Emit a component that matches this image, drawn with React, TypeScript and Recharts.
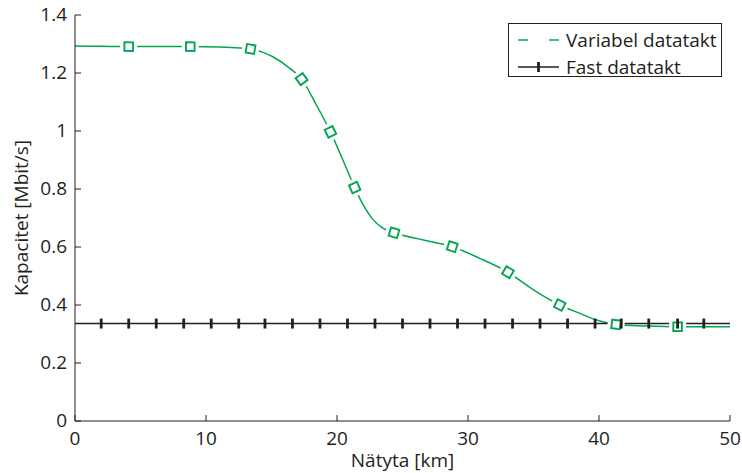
import React from 'react';
import { ComposedChart, Line, XAxis, YAxis, Legend } from 'recharts';

// Variabel datatakt: dense curve, markers are a subset of the x values
const variabelX = [0, 2, 4.1, 6.4, 8.8, 11, 12.3, 13.4, 14.3, 15.1, 16.4, 17.3, 18.4, 19.5, 20.45, 21.35, 22.0, 22.7, 23.5, 24.35, 26.6, 28.8, 30.9, 33.05, 35.0, 37.0, 38.55, 39.8, 41.3, 43.5, 46.0, 48, 50];
const variabelY = [1.293, 1.292, 1.291, 1.291, 1.291, 1.29, 1.287, 1.283, 1.272, 1.256, 1.216, 1.179, 1.092, 0.997, 0.9, 0.805, 0.745, 0.697, 0.665, 0.649, 0.624, 0.601, 0.561, 0.513, 0.452, 0.4, 0.371, 0.348, 0.333, 0.328, 0.325, 0.325, 0.325];
const variabelMarkers = [4.1, 8.8, 13.4, 17.3, 19.5, 21.35, 24.35, 28.8, 33.05, 37.0, 41.3, 46.0];

// Fast datatakt: constant level, tick marks along it
const fastX = [0, 2.0, 4.1, 6.2, 8.3, 10.4, 12.5, 14.5, 16.6, 18.7, 20.8, 22.9, 25.0, 27.1, 29.2, 31.3, 33.4, 35.5, 37.6, 39.7, 41.7, 43.8, 46.0, 48.0, 50];
const fastLevel = 0.336;

const xTicks = [0, 10, 20, 30, 40, 50];
const yTicks = [0, 0.2, 0.4, 0.6, 0.8, 1, 1.2, 1.4];

const GREEN = '#00a651';
const BLACK = '#231f20';
const FONT = '"Open Sans", sans-serif';
const FS = 19;

const variabelData = variabelX.map((x, i) => ({ x, y: variabelY[i] }));
const fastData = fastX.map((x) => ({ x, y: fastLevel }));

const BottomTick = (p: any) => (
  <g>
    <line x1={p.x} y1={p.y} x2={p.x} y2={p.y - 6} stroke={BLACK} strokeWidth={1} />
    <text x={p.x} y={p.y + 24} textAnchor="middle" fill={BLACK} fontFamily={FONT} fontSize={FS}>
      {p.payload.value}
    </text>
  </g>
);

const LeftTick = (p: any) => (
  <g>
    <line x1={p.x} y1={p.y} x2={p.x + 6} y2={p.y} stroke={BLACK} strokeWidth={1} />
    <text x={p.x - 8} y={p.y + 6} textAnchor="end" fill={BLACK} fontFamily={FONT} fontSize={FS}>
      {p.payload.value}
    </text>
  </g>
);

const TopTick = (p: any) => (
  <line x1={p.x} y1={p.y} x2={p.x} y2={p.y + 6} stroke={BLACK} strokeWidth={1} />
);

const RightTick = (p: any) => (
  <line x1={p.x} y1={p.y} x2={p.x - 6} y2={p.y} stroke={BLACK} strokeWidth={1} />
);

const VariabelDot = (p: any) => {
  const key = `v-${p.index}`;
  if (!variabelMarkers.includes(p.payload?.x)) return <g key={key} />;
  let ang = 0;
  const pts = p.points;
  if (pts && pts[p.index - 1] && pts[p.index + 1]) {
    const a = pts[p.index - 1];
    const b = pts[p.index + 1];
    ang = (Math.atan2(b.y - a.y, b.x - a.x) * 180) / Math.PI;
  }
  return (
    <g key={key} transform={`translate(${p.cx},${p.cy}) rotate(${ang})`}>
      <rect x={-8.5} y={-8.5} width={17} height={17} fill="#fff" />
      <rect x={-4.3} y={-4.3} width={8.6} height={8.6} fill="#fff" stroke={GREEN} strokeWidth={1.9} />
    </g>
  );
};

const FastDot = (p: any) => {
  const key = `f-${p.index}`;
  if (p.index === 0 || p.index === fastX.length - 1) return <g key={key} />;
  return <line key={key} x1={p.cx} y1={p.cy - 5} x2={p.cx} y2={p.cy + 5} stroke={BLACK} strokeWidth={2.8} />;
};

const LegendBox = () => (
  <div
    style={{
      width: 214,
      height: 54,
      boxSizing: 'border-box',
      border: `1px solid ${BLACK}`,
      background: '#fff',
      position: 'relative',
      fontFamily: FONT,
      fontSize: FS,
      color: BLACK,
    }}
  >
    <svg width={60} height={54} style={{ position: 'absolute', left: 0, top: 0 }}>
      <line x1={9} y1={16} x2={19} y2={16} stroke={GREEN} strokeWidth={1.5} />
      <line x1={40} y1={16} x2={50} y2={16} stroke={GREEN} strokeWidth={1.5} />
      <line x1={9} y1={43} x2={50} y2={43} stroke={BLACK} strokeWidth={1.5} />
      <line x1={29.5} y1={38} x2={29.5} y2={48} stroke={BLACK} strokeWidth={2.8} />
    </svg>
    <div style={{ position: 'absolute', left: 57, top: 16, transform: 'translateY(-50%)', whiteSpace: 'nowrap', lineHeight: 1 }}>
      Variabel datatakt
    </div>
    <div style={{ position: 'absolute', left: 57, top: 43, transform: 'translateY(-50%)', whiteSpace: 'nowrap', lineHeight: 1 }}>
      Fast datatakt
    </div>
  </div>
);

export default function App() {
  return (
    <div style={{ position: 'absolute', left: 0, top: 0, background: '#fff' }}>
      <ComposedChart width={742} height={473} margin={{ top: 15, right: 12, bottom: 0, left: 0 }}>
        <XAxis
          type="number"
          dataKey="x"
          domain={[0, 50]}
          ticks={xTicks}
          height={52}
          tickSize={0}
          tickMargin={0}
          tickLine={false}
          tick={BottomTick}
          axisLine={{ stroke: BLACK, strokeWidth: 1 }}
          label={{
            content: ({ viewBox }: any) => (
              <text x={viewBox.x + viewBox.width / 2} y={viewBox.y + 46} textAnchor="middle" fill={BLACK} fontFamily={FONT} fontSize={FS}>
                Nätyta [km]
              </text>
            ),
          }}
        />
        <XAxis
          xAxisId="top"
          orientation="top"
          type="number"
          dataKey="x"
          domain={[0, 50]}
          ticks={xTicks}
          height={0}
          tickSize={0}
          tickMargin={0}
          tickLine={false}
          tick={TopTick}
          axisLine={{ stroke: BLACK, strokeWidth: 1 }}
        />
        <YAxis
          type="number"
          domain={[0, 1.4]}
          ticks={yTicks}
          width={75}
          tickSize={0}
          tickMargin={0}
          tickLine={false}
          tick={LeftTick}
          axisLine={{ stroke: BLACK, strokeWidth: 1 }}
          label={{
            content: ({ viewBox }: any) => (
              <text
                transform={`translate(${viewBox.x + 22},${viewBox.y + viewBox.height / 2}) rotate(-90)`}
                textAnchor="middle"
                dy={6}
                fill={BLACK}
                fontFamily={FONT}
                fontSize={FS}
              >
                Kapacitet [Mbit/s]
              </text>
            ),
          }}
        />
        <YAxis
          yAxisId="right"
          orientation="right"
          type="number"
          domain={[0, 1.4]}
          ticks={yTicks}
          width={0}
          tickSize={0}
          tickMargin={0}
          tickLine={false}
          tick={RightTick}
          axisLine={{ stroke: BLACK, strokeWidth: 1 }}
        />
        <Legend
          layout="vertical"
          align="center"
          verticalAlign="middle"
          content={LegendBox}
          wrapperStyle={{ top: 23, left: 508, width: 214, height: 54 }}
        />
        <Line
          data={variabelData}
          dataKey="y"
          type="monotone"
          stroke={GREEN}
          strokeWidth={1.5}
          dot={VariabelDot}
          activeDot={false}
          isAnimationActive={false}
          name="Variabel datatakt"
        />
        <Line
          data={fastData}
          dataKey="y"
          type="linear"
          stroke={BLACK}
          strokeWidth={1.6}
          dot={FastDot}
          activeDot={false}
          isAnimationActive={false}
          name="Fast datatakt"
        />
      </ComposedChart>
    </div>
  );
}
